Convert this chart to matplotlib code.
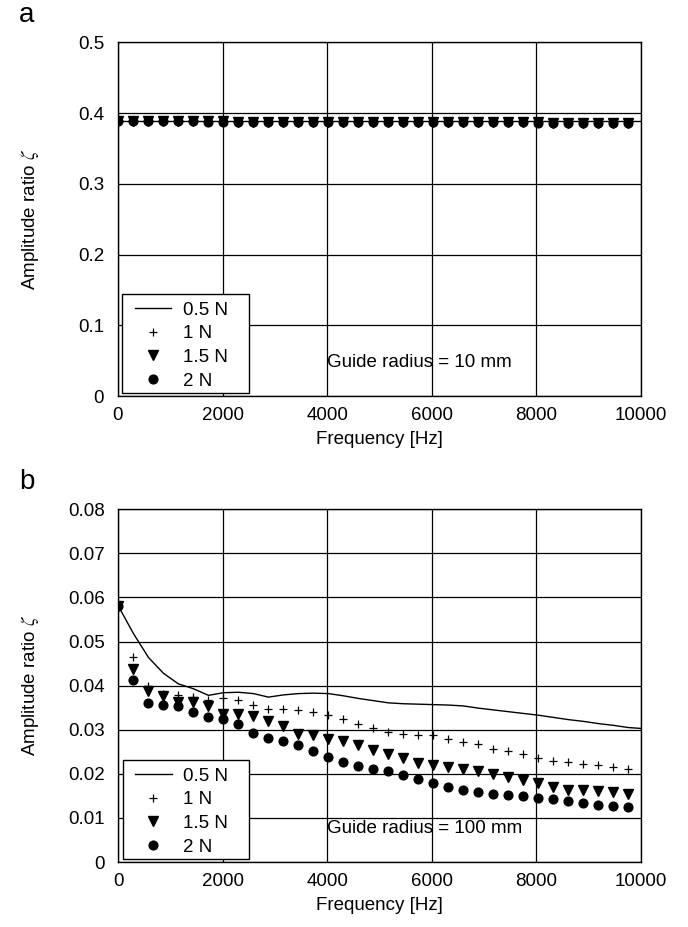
import matplotlib
matplotlib.use("Agg")
import matplotlib.pyplot as plt
from matplotlib.lines import Line2D
from matplotlib.patches import Rectangle

plt.rcParams["font.family"] = ["Liberation Sans", "DejaVu Sans"]
plt.rcParams["mathtext.fontset"] = "stix"

# measured frequencies [Hz]
freq = [0, 287, 574, 861, 1148, 1435, 1722, 2009, 2296, 2583, 2870, 3157,
        3444, 3731, 4018, 4305, 4592, 4879, 5166, 5453, 5740, 6027, 6314,
        6601, 6888, 7175, 7462, 7749, 8036, 8323, 8610, 8897, 9184, 9471, 9758]
line_freq = freq + [10000]

# panel a: guide radius 10 mm
a_05N = [0.3885] * 36
a_1N = [0.3885, 0.3885, 0.3884, 0.3884, 0.3883, 0.3883, 0.3882, 0.3882, 0.3881,
        0.3881, 0.3880, 0.3880, 0.3879, 0.3879, 0.3878, 0.3878, 0.3877, 0.3877,
        0.3876, 0.3876, 0.3875, 0.3875, 0.3874, 0.3873, 0.3872, 0.3871, 0.3870,
        0.3869, 0.3868, 0.3867, 0.3866, 0.3865, 0.3864, 0.3863, 0.3862]
a_15N = [0.3884, 0.3884, 0.3883, 0.3883, 0.3882, 0.3882, 0.3881, 0.3881, 0.3880,
         0.3880, 0.3879, 0.3879, 0.3878, 0.3878, 0.3877, 0.3877, 0.3876, 0.3876,
         0.3875, 0.3875, 0.3874, 0.3874, 0.3873, 0.3872, 0.3871, 0.3870, 0.3869,
         0.3868, 0.3867, 0.3866, 0.3865, 0.3864, 0.3863, 0.3862, 0.3861]
a_2N = [0.3883, 0.3883, 0.3882, 0.3882, 0.3881, 0.3881, 0.3880, 0.3880, 0.3879,
        0.3879, 0.3878, 0.3878, 0.3877, 0.3877, 0.3876, 0.3876, 0.3875, 0.3875,
        0.3874, 0.3874, 0.3873, 0.3873, 0.3872, 0.3871, 0.3870, 0.3869, 0.3868,
        0.3867, 0.3866, 0.3865, 0.3864, 0.3863, 0.3862, 0.3861, 0.3860]

# panel b: guide radius 100 mm
b_05N = [0.0580, 0.0518, 0.0464, 0.0428, 0.0404, 0.0393, 0.0378, 0.0384, 0.0385,
         0.0382, 0.0374, 0.0379, 0.0382, 0.0383, 0.0382, 0.0377, 0.0371, 0.0366,
         0.0361, 0.0359, 0.0358, 0.0357, 0.0356, 0.0354, 0.0349, 0.0345, 0.0341,
         0.0337, 0.0333, 0.0328, 0.0323, 0.0319, 0.0314, 0.0310, 0.0305, 0.0303]
b_1N = [0.0580, 0.0464, 0.0400, 0.0381, 0.0379, 0.0374, 0.0367, 0.0371, 0.0367,
        0.0356, 0.0346, 0.0348, 0.0345, 0.0340, 0.0334, 0.0325, 0.0314, 0.0304,
        0.0295, 0.0291, 0.0289, 0.0287, 0.0280, 0.0272, 0.0267, 0.0257, 0.0251,
        0.0244, 0.0237, 0.0229, 0.0226, 0.0223, 0.0221, 0.0216, 0.0212]
b_15N = [0.0580, 0.0438, 0.0389, 0.0377, 0.0362, 0.0363, 0.0354, 0.0336, 0.0335,
         0.0331, 0.0320, 0.0308, 0.0291, 0.0289, 0.0280, 0.0274, 0.0266, 0.0255,
         0.0246, 0.0235, 0.0225, 0.0219, 0.0216, 0.0212, 0.0206, 0.0199, 0.0192,
         0.0186, 0.0180, 0.0170, 0.0164, 0.0163, 0.0161, 0.0159, 0.0155]
b_2N = [0.0580, 0.0412, 0.0361, 0.0356, 0.0354, 0.0341, 0.0329, 0.0324, 0.0312,
        0.0293, 0.0281, 0.0274, 0.0265, 0.0252, 0.0238, 0.0227, 0.0217, 0.0212,
        0.0206, 0.0197, 0.0188, 0.0180, 0.0170, 0.0163, 0.0159, 0.0155, 0.0152,
        0.0149, 0.0146, 0.0142, 0.0138, 0.0134, 0.0130, 0.0127, 0.0124]

labels = ["0.5 N", "1 N", "1.5 N", "2 N"]
xticks = [0, 2000, 4000, 6000, 8000, 10000]
FS = 13.5

fig = plt.figure(figsize=(6.88, 9.27), dpi=100)
ax_a = fig.add_axes([0.1715, 0.5728, 0.7602, 0.3816])
ax_b = fig.add_axes([0.1722, 0.0701, 0.7594, 0.3805])

panels = [
    (ax_a, a_05N, a_1N, a_15N, a_2N, 0.5, 0.1, "%.1f", "Guide radius = 10 mm", "a"),
    (ax_b, b_05N, b_1N, b_15N, b_2N, 0.08, 0.01, "%.2f", "Guide radius = 100 mm", "b"),
]

for ax, l05, l1, l15, l2, ymax, ystep, fmt, note, tag in panels:
    ax.plot(line_freq, l05, color="black", lw=1.0, zorder=3)
    ax.plot(freq, l1, ls="none", marker="+", ms=6, mew=0.9, color="black", zorder=4)
    ax.plot(freq, l15, ls="none", marker="v", ms=7, color="black", zorder=4)
    ax.plot(freq, l2, ls="none", marker="o", ms=6.3, color="black", zorder=4)

    ax.set_xlim(0, 10000)
    ax.set_ylim(0, ymax)
    ax.set_xticks(xticks)
    yt = [i * ystep for i in range(int(round(ymax / ystep)) + 1)]
    ax.set_yticks(yt)
    ax.set_yticklabels(["0"] + [fmt % v for v in yt[1:]])
    ax.tick_params(length=0, labelsize=FS)
    ax.tick_params(axis="y", pad=10)
    ax.tick_params(axis="x", pad=8)
    ax.grid(True, color="black", lw=0.9)
    ax.set_axisbelow(True)
    for s in ax.spines.values():
        s.set_linewidth(1.0)
    ax.set_xlabel("Frequency [Hz]", fontsize=FS, labelpad=5)
    ax.set_ylabel(r"Amplitude ratio $\zeta$", fontsize=FS)
    ax.yaxis.set_label_coords(-0.148, 0.5)

    ax.text(4000, ymax * 0.096, note, fontsize=FS, va="center", ha="left")

    # legend box (drawn separately so the padding can be uneven like the original)
    ax.add_patch(Rectangle((0.008, 0.0085), 0.2418, 0.2805, transform=ax.transAxes,
                           facecolor="white", edgecolor="black", lw=1.0, zorder=5))
    handles = [
        Line2D([], [], color="black", lw=1.0),
        Line2D([], [], ls="none", marker="+", ms=6, mew=0.9, color="black"),
        Line2D([], [], ls="none", marker="v", ms=7, color="black"),
        Line2D([], [], ls="none", marker="o", ms=6.3, color="black"),
    ]
    leg = ax.legend(handles, labels, loc="lower left", bbox_to_anchor=(0.0316, 0.018),
                    borderaxespad=0, borderpad=0, fontsize=FS, frameon=False,
                    handlelength=1.96, handletextpad=0.6, labelspacing=0.35)
    leg.set_zorder(6)

    ax.text(-0.19, 1.04, tag, transform=ax.transAxes, fontsize=20, va="bottom")

fig.savefig("out.png", dpi=100)
